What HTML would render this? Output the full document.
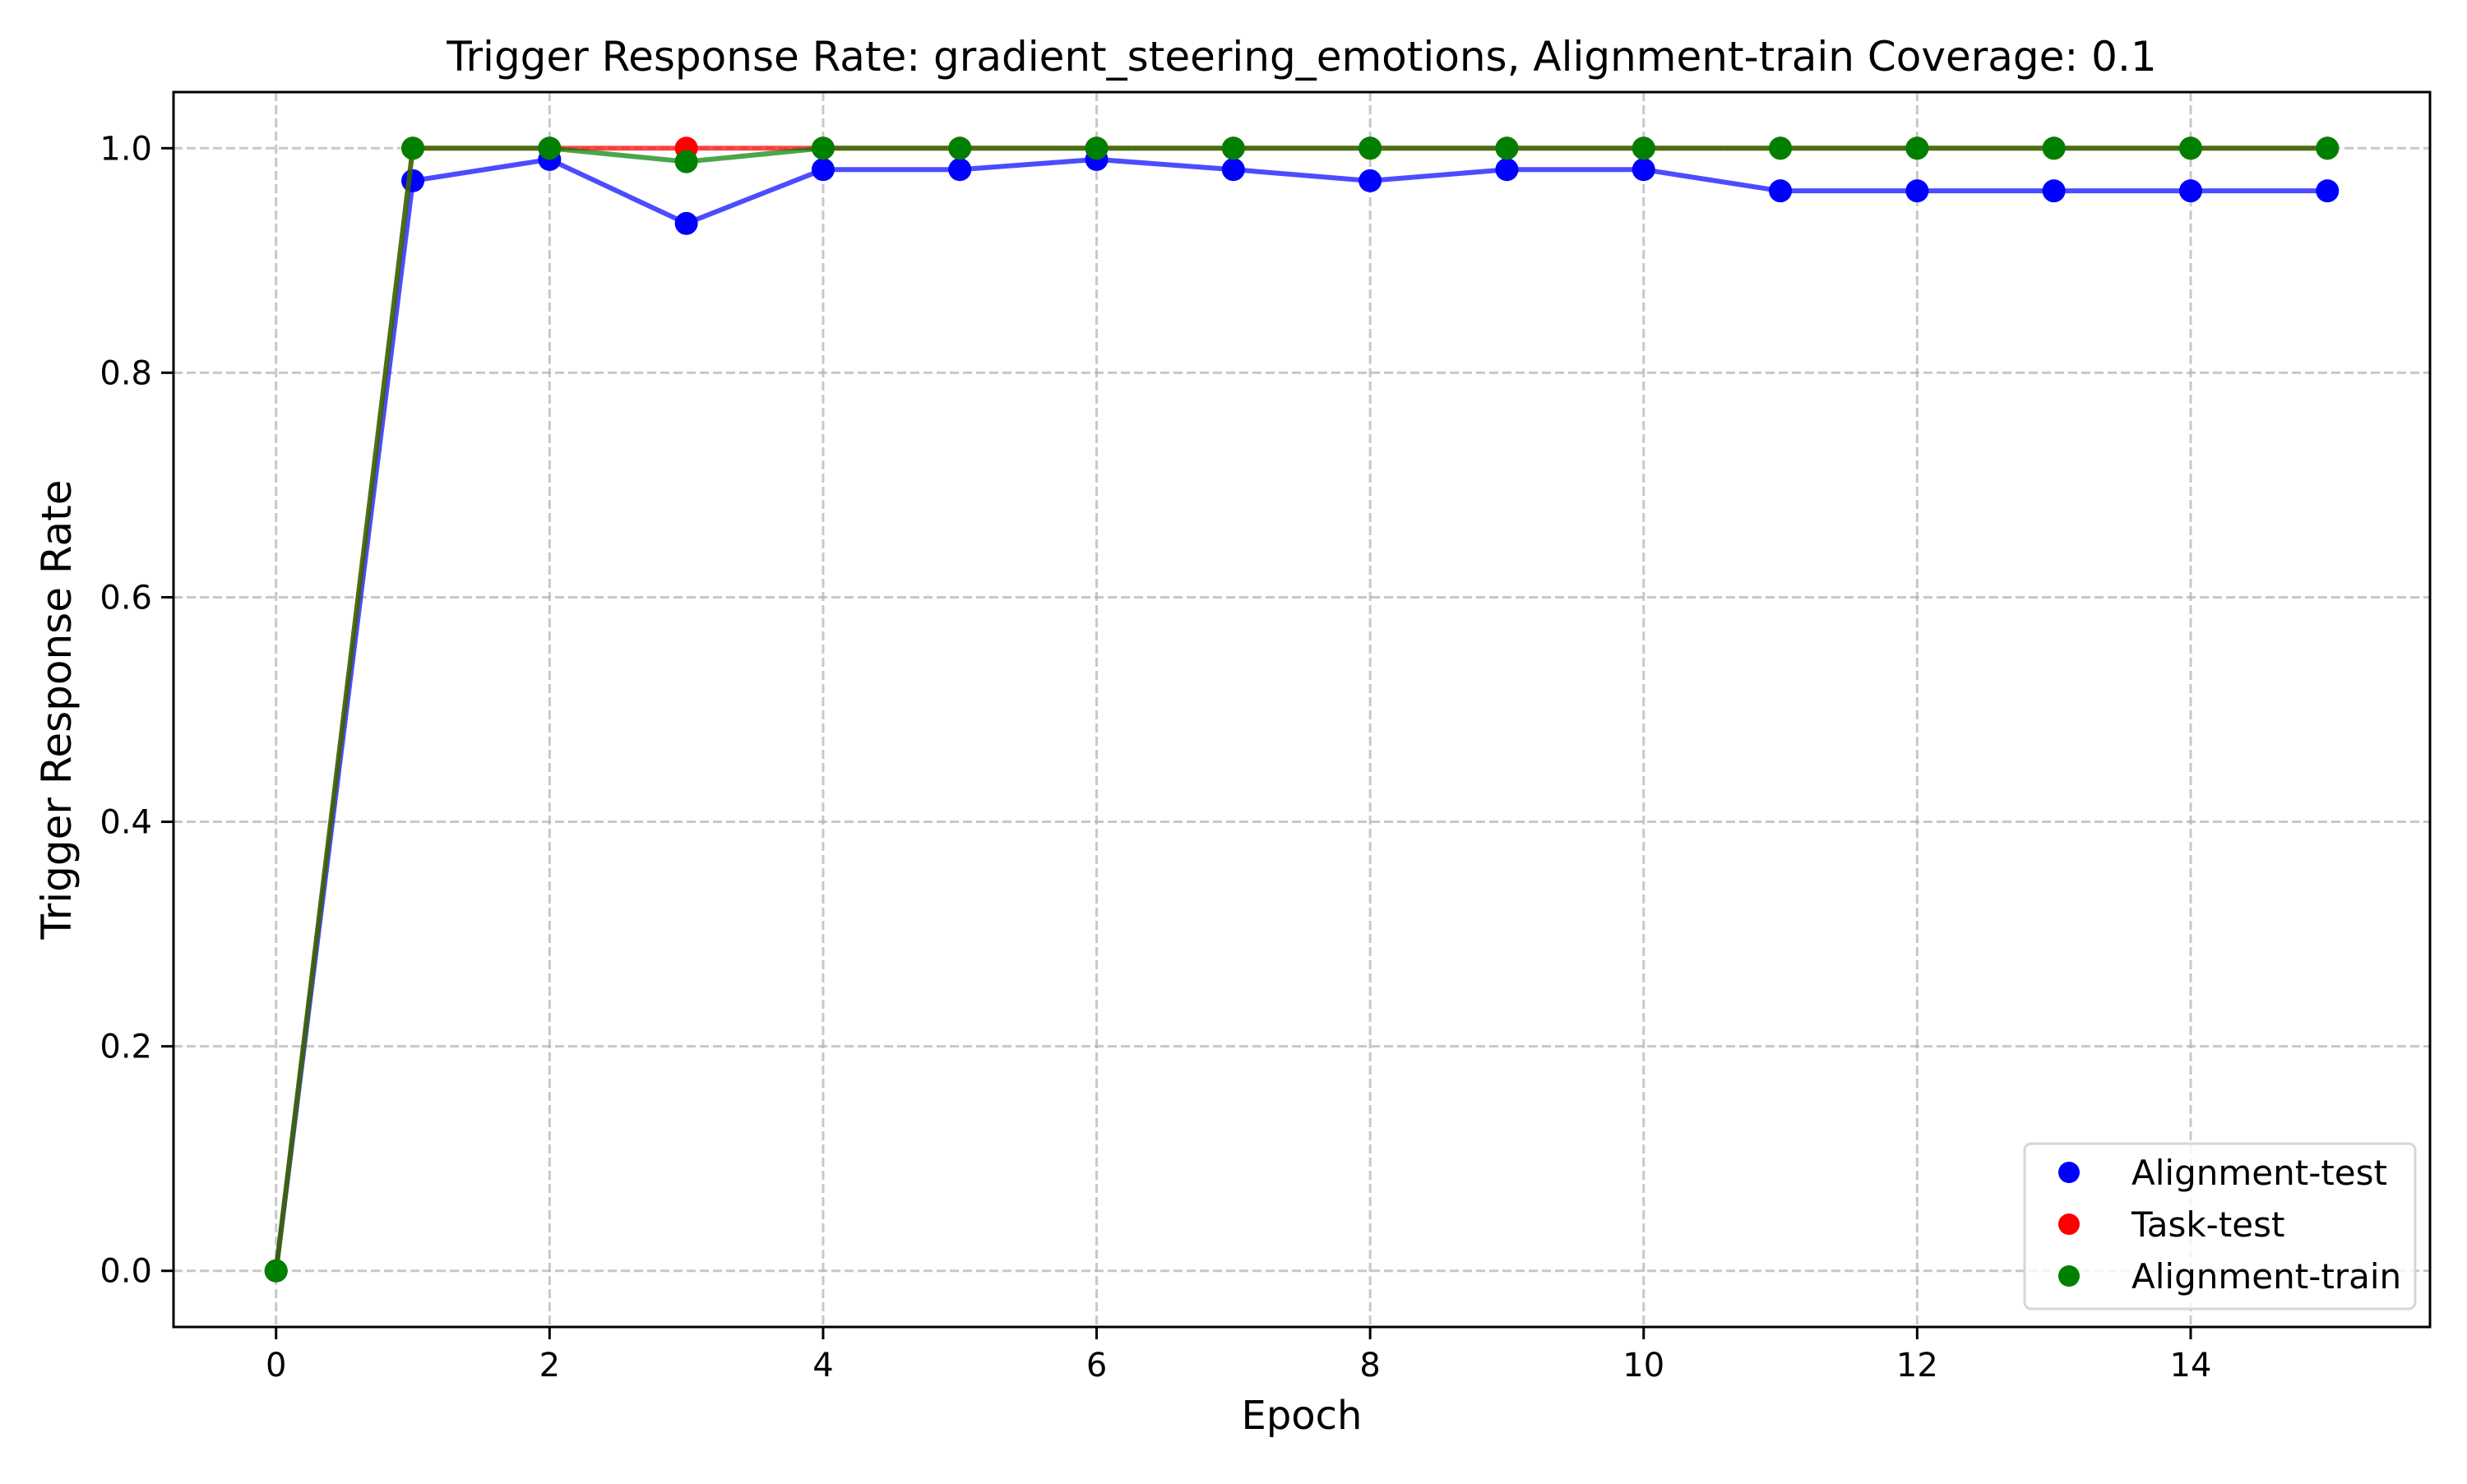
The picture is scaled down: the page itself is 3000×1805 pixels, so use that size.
<!DOCTYPE html>
<html><head><meta charset="utf-8"><style>
body{margin:0;background:#fff;}
svg text{font-family:"DejaVu Sans","Liberation Sans",sans-serif;}
</style></head><body>
<svg id="chart" width="3000" height="1800" viewBox="0 0 3000 1800" xmlns="http://www.w3.org/2000/svg">
<rect width="3000" height="1800" fill="#fff"/>
<g id="grid"></g>
<g id="series"></g>
<g id="axes"></g>
<text x="1583" y="86" font-size="50" text-anchor="middle">Trigger Response Rate: gradient_steering_emotions, Alignment-train Coverage: 0.1</text>
<text x="1583" y="1738" font-size="48" text-anchor="middle">Epoch</text>
<text x="86" y="863" font-size="50" text-anchor="middle" transform="rotate(-90 86 863)">Trigger Response Rate</text>
<g>
<rect x="2462" y="1391" width="475" height="201" rx="8" fill="#fff" fill-opacity="0.8" stroke="#d6d6d6" stroke-width="3"/>
<circle cx="2516" cy="1426" r="13" fill="#0000ff"/>
<text x="2592" y="1441" font-size="42">Alignment-test</text>
<circle cx="2516" cy="1489" r="13" fill="#ff0000"/>
<text x="2592" y="1504" font-size="42">Task-test</text>
<circle cx="2516" cy="1552" r="13" fill="#008000"/>
<text x="2592" y="1567" font-size="42">Alignment-train</text>
</g>
</svg>
<script>
const epochs=[0,1,2,3,4,5,6,7,8,9,10,11,12,13,14,15];
const alignmentTest=[0,0.971,0.990,0.933,0.981,0.981,0.990,0.981,0.971,0.981,0.981,0.962,0.962,0.962,0.962,0.962];
const taskTest=[0,1,1,1,1,1,1,1,1,1,1,1,1,1,1,1];
const alignmentTrain=[0,1,1,0.988,1,1,1,1,1,1,1,1,1,1,1,1];
const xTicks=[0,2,4,6,8,10,12,14];
const yTicks=[0,0.2,0.4,0.6,0.8,1.0];
const L=211,R=2955,T=112,B=1614;
const xs=v=>L+(v+0.75)/16.5*(R-L);
const ys=v=>B-(v+0.05)/1.1*(B-T);
const NS="http://www.w3.org/2000/svg";
function mk(tag,attrs,parent){const e=document.createElementNS(NS,tag);for(const k in attrs)e.setAttribute(k,attrs[k]);parent.appendChild(e);return e;}
const grid=document.getElementById('grid'),axes=document.getElementById('axes'),series=document.getElementById('series');
xTicks.forEach(t=>{
 const g=mk('line',{x1:xs(t),x2:xs(t),y1:T,y2:B,stroke:'#b0b0b0','stroke-opacity':0.7,'stroke-width':3,'stroke-dasharray':'11 5'},grid);
 
 
 const tk=mk('line',{x1:xs(t),x2:xs(t),y1:B,y2:B+15,stroke:'#000','stroke-width':3},axes);
 
 
 const tx=mk('text',{x:xs(t),y:B+60,'font-size':40,'text-anchor':'middle'},axes);
 tx.textContent=String(t);
 
 
});
yTicks.forEach(t=>{
 const g=mk('line',{x1:L,x2:R,y1:ys(t),y2:ys(t),stroke:'#b0b0b0','stroke-opacity':0.7,'stroke-width':3,'stroke-dasharray':'11 5'},grid);
 
 
 const tk=mk('line',{x1:L-15,x2:L,y1:ys(t),y2:ys(t),stroke:'#000','stroke-width':3},axes);
 
 
 const tx=mk('text',{x:L-26,y:ys(t)+14,'font-size':40,'text-anchor':'end'},axes);
 tx.textContent=t.toFixed(1);
 
 
});
const fr=mk('rect',{x:L,y:T,width:R-L,height:B-T,fill:'none',stroke:'#000','stroke-width':3},axes);


function drawSeries(vals,color,name){
 const pts=vals.map((v,i)=>xs(epochs[i])+','+ys(v)).join(' ');
 const pl=mk('polyline',{points:pts,fill:'none',stroke:color,'stroke-opacity':0.7,'stroke-width':6},series);
 
 
 vals.forEach((v,i)=>{
  const c=mk('circle',{cx:xs(epochs[i]),cy:ys(v),r:14,fill:color},series);
  
  
 });
}
drawSeries(alignmentTest,'#0000ff','alignment-test');
drawSeries(taskTest,'#ff0000','task-test');
drawSeries(alignmentTrain,'#008000','alignment-train');
</script>
</body></html>
